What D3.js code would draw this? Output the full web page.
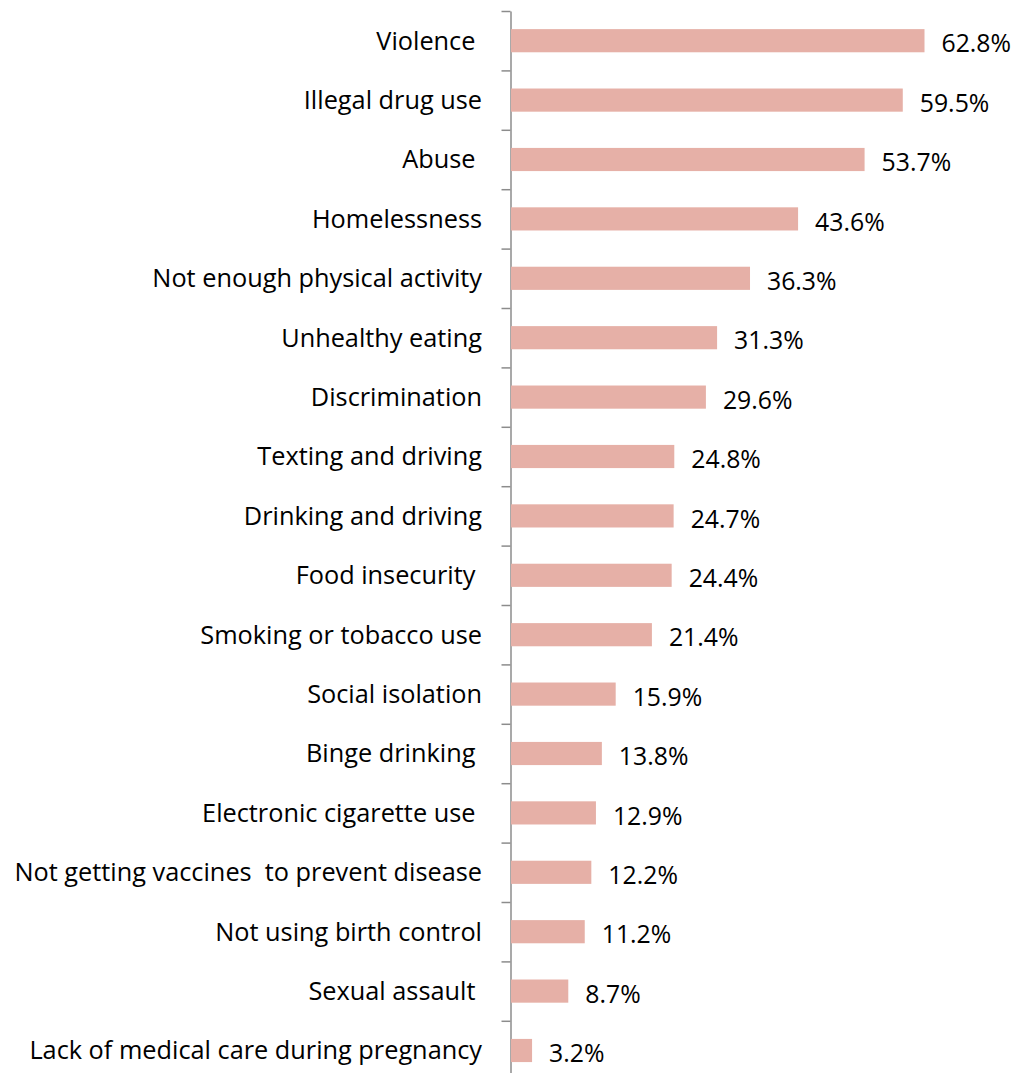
<!DOCTYPE html>
<html>
<head>
<meta charset="utf-8">
<script src="https://cdn.jsdelivr.net/npm/d3@7"></script>
<style>
  body { margin: 0; background: #fff; }
  text { font-family: "Open Sans", "Noto Sans", sans-serif; fill: #000; }
</style>
</head>
<body>
<div id="chart"></div>
<script>
// categories top to bottom (trailing spaces kept as in the source chart)
var categories = [
  "Violence ",
  "Illegal drug use",
  "Abuse ",
  "Homelessness",
  "Not enough physical activity",
  "Unhealthy eating",
  "Discrimination",
  "Texting and driving",
  "Drinking and driving",
  "Food insecurity ",
  "Smoking or tobacco use",
  "Social isolation",
  "Binge drinking ",
  "Electronic cigarette use ",
  "Not getting vaccines  to prevent disease",
  "Not using birth control",
  "Sexual assault ",
  "Lack of medical care during pregnancy"
];
var values = [62.8, 59.5, 53.7, 43.6, 36.3, 31.3, 29.6, 24.8, 24.7, 24.4, 21.4, 15.9, 13.8, 12.9, 12.2, 11.2, 8.7, 3.2];

var width = 1019, height = 1073;
var axisX = 510.5;
var plotTop = 11, step = 59.4;

var svg = d3.select("#chart").append("svg")
    .attr("width", width)
    .attr("height", height);

var x = d3.scaleLinear().domain([0, 62.8]).range([axisX + 0.5, 924.5]);

var y = d3.scaleBand()
    .domain(categories)
    .range([plotTop, plotTop + step * categories.length])
    .paddingInner(0.61)
    .paddingOuter(0.305);

// boundary ticks between categories
var yEdge = d3.scaleLinear().domain([0, categories.length]).range([plotTop, plotTop + step * categories.length]);

var axis = d3.axisLeft(yEdge)
    .tickValues(d3.range(0, categories.length + 1))
    .tickFormat("")
    .tickSizeInner(9)
    .tickSizeOuter(0);

var g = svg.append("g")
    .attr("transform", "translate(" + axisX + ",0)")
    .call(axis);
g.select(".domain").attr("stroke", "#8c8c8c").attr("stroke-width", 1.5);
g.selectAll(".tick line").attr("stroke", "#8c8c8c").attr("stroke-width", 1.5);

// bars
svg.selectAll("rect.bar")
    .data(values)
    .enter()
    .append("rect")
    .attr("class", "bar")
    .attr("x", x(0))
    .attr("y", function(d, i) { return y(categories[i]); })
    .attr("width", function(d) { return x(d) - x(0); })
    .attr("height", y.bandwidth())
    .attr("fill", "#e6b0a7");

// category labels
svg.selectAll("text.cat")
    .data(categories)
    .enter()
    .append("text")
    .attr("class", "cat")
    .attr("x", 482)
    .attr("y", function(d) { return y(d) + y.bandwidth() / 2; })
    .attr("dy", "0.35em")
    .attr("text-anchor", "end")
    .style("white-space", "pre")
    .style("font-size", "25.3px")
    .text(function(d) { return d; });

// value labels
svg.selectAll("text.val")
    .data(values)
    .enter()
    .append("text")
    .attr("class", "val")
    .attr("x", function(d) { return x(d) + 17; })
    .attr("y", function(d, i) { return y(categories[i]) + y.bandwidth() / 2 + 3; })
    .attr("dy", "0.35em")
    .style("font-size", "24.8px")
    .text(function(d) { return d.toFixed(1) + "%"; });
</script>
</body>
</html>
